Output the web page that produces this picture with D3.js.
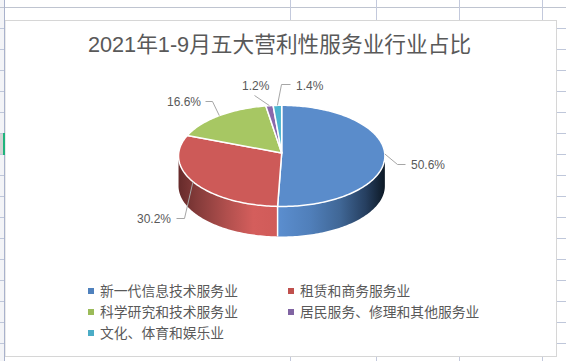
<!DOCTYPE html>
<html>
<head>
<meta charset="utf-8">
<script src="https://cdn.jsdelivr.net/npm/d3@7"></script>
<style>
body { margin: 0; background: #fff; }
svg { display: block; }
text { font-family: "Liberation Sans", "Noto Sans CJK SC", sans-serif; fill: #595959; }
</style>
</head>
<body>
<div id="chart"></div>
<script>
var titleText = "2021年1-9月五大营利性服务业行业占比";
var categories = ["新一代信息技术服务业", "租赁和商务服务业", "科学研究和技术服务业", "居民服务、修理和其他服务业", "文化、体育和娱乐业"];
var values = [50.6, 30.2, 16.6, 1.2, 1.4];
var valueLabels = ["50.6%", "30.2%", "16.6%", "1.2%", "1.4%"];

var w = 566;
var h = 361;

var colors = ["#5a8ccb", "#cd5a58", "#a7c763", "#8a68ab", "#4bb5cf"];
var legendColors = ["#4f81bd", "#c0504d", "#9bbb59", "#8064a2", "#4bacc6"];

var svg = d3.select("#chart").append("svg")
    .attr("width", w)
    .attr("height", h);

// spreadsheet behind the chart
var frame = { left: 5, top: 20.5, right: 556.5, bottom: 356.5 };
var rowLines = d3.range(28.5, h, 21);
var colLines = [290.5, 376.5, 459.5, 542.5];

svg.append("rect").attr("width", 4).attr("height", h).attr("fill", "#f3f4f7");
svg.append("rect").attr("x", 0).attr("y", 133).attr("width", 3).attr("height", 22).attr("fill", "#d4d4d4");

svg.selectAll("line.row").data(rowLines).enter().append("line")
    .attr("x1", 0).attr("x2", w)
    .attr("y1", d => d).attr("y2", d => d)
    .attr("stroke", "#bfc7da");
svg.append("line").attr("x1", 0).attr("x2", w).attr("y1", 7.5).attr("y2", 7.5)
    .attr("stroke", "#bfc4d0");
svg.selectAll("line.col").data(colLines).enter().append("line")
    .attr("x1", d => d).attr("x2", d => d)
    .attr("y1", 0).attr("y2", h)
    .attr("stroke", "#c3c9dc");

svg.append("rect")
    .attr("x", frame.left).attr("y", frame.top)
    .attr("width", frame.right - frame.left)
    .attr("height", frame.bottom - frame.top)
    .attr("fill", "#fff")
    .attr("stroke", "#d6d6d6");
// the green mark and left edge sit over the frame
svg.append("line").attr("x1", 4.5).attr("x2", 4.5).attr("y1", 0).attr("y2", h)
    .attr("stroke", "#a9b2cc");
svg.append("rect").attr("x", 3).attr("y", 133).attr("width", 2).attr("height", 22).attr("fill", "#1fb47c");

// title
svg.append("text")
    .attr("x", 279.5)
    .attr("y", 51.5)
    .attr("text-anchor", "middle")
    .style("font-size", "21.7px")
    .text(titleText);

// pie, tilted with a small perspective so the hub sits above the ellipse centre
var cx = 281.7, cy = 153, rx = 103, ry = 50.4, k = 0.0573, depth = 30;
var pie = d3.pie().sort(null).value(d => d)(values);
var edgeAngle = Math.acos(k); // where the rim is widest

function point(a, dy) {
    var u = Math.sin(a), v = -Math.cos(a), s = 1 - k * v;
    return [cx + rx * u / s, cy + ry * v / s + (dy || 0)];
}

function rim(a0, a1, dy) {
    var n = Math.max(2, Math.ceil((a1 - a0) / 0.02));
    return d3.range(n + 1).map(i => point(a0 + (a1 - a0) * i / n, dy));
}

var line = d3.line();

var defs = svg.append("defs");
function gradient(id, x1, x2, stops) {
    var g = defs.append("linearGradient").attr("id", id)
        .attr("gradientUnits", "userSpaceOnUse")
        .attr("x1", x1).attr("x2", x2).attr("y1", 0).attr("y2", 0);
    stops.forEach(function(s) {
        g.append("stop").attr("offset", s[0]).attr("stop-color", s[1]);
    });
}
gradient("wall0", 278, 385, [[0, "#5b8ecf"], [0.3, "#507fba"], [0.58, "#406796"], [0.82, "#263f60"], [1, "#0c1824"]]);
gradient("wall1", 179, 278, [[0, "#672b2b"], [0.18, "#843b3a"], [0.48, "#b04f4d"], [0.75, "#d45e5c"], [1, "#d05b59"]]);

// side wall of the two slices that face the viewer
var walls = [
    { i: 0, a0: Math.PI - edgeAngle, a1: pie[0].endAngle },
    { i: 1, a0: pie[1].startAngle, a1: Math.PI + edgeAngle }
];
svg.selectAll("path.wall").data(walls).enter().append("path")
    .attr("class", "wall")
    .attr("d", d => line(rim(d.a0, d.a1, 0).concat(rim(d.a0, d.a1, depth).reverse())) + "Z")
    .attr("fill", d => "url(#wall" + d.i + ")");
svg.append("line")
    .attr("x1", point(pie[0].endAngle)[0]).attr("y1", point(pie[0].endAngle)[1])
    .attr("x2", point(pie[0].endAngle, depth)[0]).attr("y2", point(pie[0].endAngle, depth)[1])
    .attr("stroke", "#fff").attr("stroke-width", 1.5);

// top face
svg.selectAll("path.slice").data(pie).enter().append("path")
    .attr("class", "slice")
    .attr("d", d => line([[cx, cy]].concat(rim(d.startAngle, d.endAngle))) + "Z")
    .attr("fill", (d, i) => colors[i])
    .attr("stroke", "#fff")
    .attr("stroke-width", 1.5)
    .attr("stroke-linejoin", "round");

// leader lines and value labels
var labelLayout = [
    { elbow: [397.5, 164.5], end: [405.5, 164.5], x: 411, y: 168.5 },
    { elbow: [184.5, 218.5], end: [176.5, 218.5], x: 137, y: 222.5 },
    { elbow: [212.5, 101.5], end: [205.5, 101.5], x: 167, y: 105.5 },
    { elbow: [254.5, 95.5], end: [254.5, 95.5], x: 242, y: 89.5 },
    { elbow: [281.5, 84.5], end: [290.5, 84.5], x: 296, y: 89.5 }
];

svg.selectAll("path.leader").data(pie).enter().append("path")
    .attr("class", "leader")
    .attr("d", (d, i) => line([point((d.startAngle + d.endAngle) / 2), labelLayout[i].elbow, labelLayout[i].end]))
    .attr("fill", "none")
    .attr("stroke", "#a6a6a6");

svg.selectAll("text.value").data(valueLabels).enter().append("text")
    .attr("class", "value")
    .attr("x", (d, i) => labelLayout[i].x)
    .attr("y", (d, i) => labelLayout[i].y)
    .style("font-size", "12px")
    .text(d => d);

// legend
var legendX = d3.scalePoint().domain([0, 1]).range([88, 288]);
var legendY = d3.scalePoint().domain([0, 1, 2]).range([291, 333]);
var legend = svg.selectAll("g.legend").data(categories).enter().append("g")
    .attr("class", "legend")
    .attr("transform", (d, i) => "translate(" + legendX(i % 2) + "," + legendY(Math.floor(i / 2)) + ")");

legend.append("rect")
    .attr("x", 0).attr("y", -3)
    .attr("width", 6).attr("height", 6)
    .attr("fill", (d, i) => legendColors[i]);

legend.append("text")
    .attr("x", 12)
    .attr("y", 5)
    .style("font-size", "13.8px")
    .text(d => d);
</script>
</body>
</html>
